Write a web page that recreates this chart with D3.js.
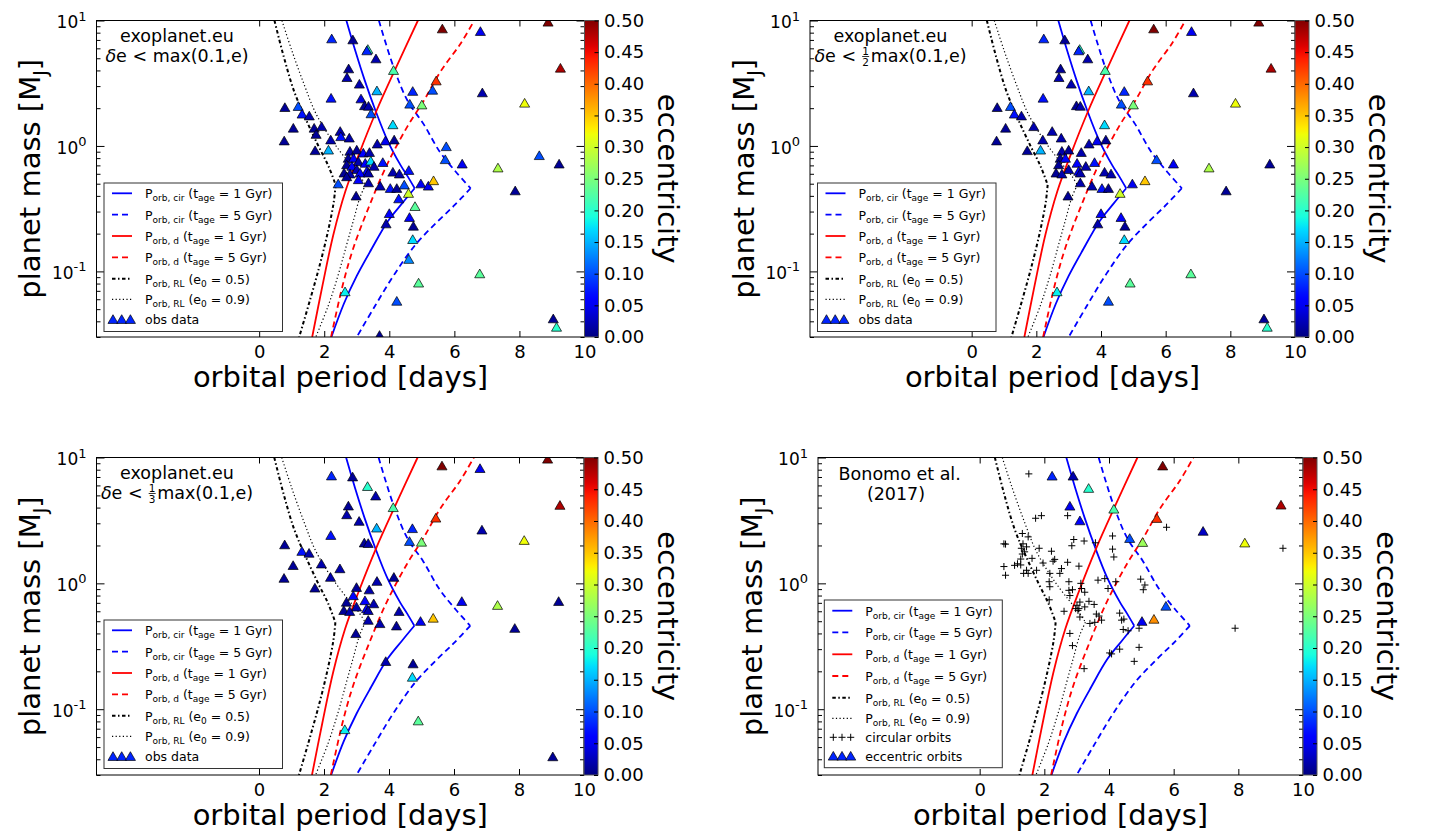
<!DOCTYPE html>
<html>
<head>
<meta charset="utf-8">
<script src="https://cdn.jsdelivr.net/npm/d3@7"></script>
<style>
  body { margin: 0; background: #fff; }
  svg { display: block; font-family: "DejaVu Sans", sans-serif; }
  text { white-space: pre; }
</style>
</head>
<body>
<svg id="fig" width="1429" height="833"></svg>
<script>
// ---- exoplanet.eu sample (orbital period [d], mass [MJ], eccentricity, precision level) ----
// level 1: only with de < max(0.1,e); 2: also de < 1/2 max; 3: also de < 1/3 max
const exoPeriod = [
  2.23, 2.88, 3.34, 3.31, 3.59, 2.75, 2.70, 4.13, 3.08, 3.62,
  2.21, 3.13, 3.24, 3.36, 3.44, 4.72, 4.63, 5.00, 0.79, 1.20,
  1.32, 1.54, 1.05, 1.69, 1.92, 1.75, 0.77, 2.20, 2.49, 2.51,
  2.77, 4.11, 3.63, 3.88, 4.15, 1.72, 2.13,
  2.79, 3.00, 3.20, 3.39, 2.74, 2.90, 3.05, 3.26, 3.43, 3.53, 2.69, 2.85, 3.00, 3.31, 2.61, 2.79, 3.10, 3.36, 2.69, 3.05, 3.36,
  3.80, 4.11, 4.31, 4.60, 2.43, 2.98, 3.72, 4.03, 4.23, 4.46, 4.59, 4.29, 4.97, 4.79, 4.00, 3.90, 4.62, 4.74, 4.72, 4.60, 4.90, 2.64, 4.23, 3.70,
  5.63, 6.80, 8.88, 9.26, 5.44, 5.33, 6.86, 8.16, 5.75, 5.72, 6.24, 7.34, 8.61, 9.22, 5.20, 5.36, 7.87, 6.78, 9.04, 9.14
];
const exoMass = [
  7.16, 7.03, 5.90, 5.75, 4.96, 4.13, 3.52, 4.01, 3.12, 2.76,
  2.41, 2.38, 2.10, 2.08, 1.81, 2.73, 2.16, 2.13, 2.03, 2.07,
  1.80, 1.74, 1.39, 1.39, 1.43, 1.24, 1.10, 1.12, 1.31, 1.19,
  1.16, 1.48, 1.04, 1.10, 1.12, 0.92, 0.93,
  0.91, 0.93, 0.88, 0.89, 0.80, 0.80, 0.75, 0.73, 0.76, 0.69, 0.71, 0.69, 0.65, 0.63, 0.61, 0.60, 0.61, 0.61, 0.57, 0.54, 0.51,
  0.74, 0.62, 0.60, 0.64, 0.50, 0.40, 0.48, 0.46, 0.46, 0.49, 0.42, 0.38, 0.50, 0.33, 0.29, 0.24, 0.27, 0.23, 0.18, 0.125, 0.081, 0.069, 0.058, 0.031,
  8.60, 8.20, 9.73, 4.18, 3.31, 2.79, 2.66, 2.20, 0.99, 0.78, 0.72, 0.67, 0.84, 0.72, 0.48, 0.53, 0.44, 0.096, 0.042, 0.036
];
const exoEcc = [
  0.08, 0.01, 0.20, 0.08, 0.02, 0.01, 0.02, 0.22, 0.02, 0.15,
  0.07, 0.04, 0.01, 0.02, 0.10, 0.08, 0.10, 0.25, 0.01, 0.10,
  0.07, 0.02, 0.01, 0.01, 0.02, 0.01, 0.01, 0.02, 0.02, 0.07,
  0.02, 0.17, 0.02, 0.05, 0.01, 0.01, 0.15,
  0.02, 0.01, 0.06, 0.02, 0.01, 0.06, 0.02, 0.06, 0.17, 0.02, 0.01, 0.06, 0.02, 0.06, 0.01, 0.02, 0.06, 0.02, 0.01, 0.06, 0.02,
  0.07, 0.02, 0.02, 0.07, 0.10, 0.01, 0.02, 0.07, 0.01, 0.10, 0.30, 0.07, 0.05, 0.23, 0.06, 0.02, 0.06, 0.01, 0.17, 0.13, 0.23, 0.18, 0.10, 0.01,
  0.50, 0.05, 0.50, 0.48, 0.43, 0.10, 0.02, 0.32, 0.10, 0.10, 0.05, 0.28, 0.10, 0.01, 0.05, 0.35, 0.01, 0.23, 0.01, 0.20
];
const exoLevel = [
  3, 3, 3, 2, 3, 3, 3, 3, 3, 3,
  3, 1, 3, 3, 1, 3, 3, 3, 3, 2,
  3, 3, 3, 1, 3, 1, 3, 3, 3, 1,
  2, 2, 3, 2, 3, 3, 2,
  2, 3, 1, 3, 2, 3, 1, 3, 1, 3, 3, 1, 3, 3, 3, 3, 1, 3, 1, 1, 3,
  2, 2, 3, 1, 1, 3, 3, 2, 3, 1, 2, 1, 3, 1, 2, 3, 2, 3, 3, 1, 3, 3, 2, 1,
  3, 3, 3, 3, 3, 1, 3, 3, 1, 2, 3, 3, 1, 3, 1, 3, 3, 2, 3, 2
];

// ---- Bonomo et al. (2017) sample ----
const bonCircPeriod = [
  1.52, 1.73, 1.91, 2.72, 5.78, 1.32, 1.50, 0.80, 2.91, 2.85, 3.23, 3.58, 4.11, 4.11, 4.15,
  1.29, 1.39, 1.32, 1.45, 1.84, 2.22, 1.62, 1.96, 2.27, 2.32, 1.08, 0.80, 1.36, 1.45, 1.50,
  1.76, 2.17, 2.53, 2.48, 2.72, 3.07, 2.15, 2.17, 2.76, 3.13, 3.15, 3.66, 3.87, 4.21, 2.15,
  2.76, 2.87, 3.25, 3.97, 4.98, 5.11, 5.06, 2.79, 3.10, 3.01, 3.07, 2.97, 3.25, 3.38, 3.54,
  2.61, 3.61, 3.69, 3.77, 3.56, 3.41, 3.10, 3.04, 4.33, 4.46, 4.39, 4.44, 4.59, 4.93, 2.79,
  2.87, 4.93, 4.02, 4.08, 4.33, 4.78, 3.23, 7.90, 9.38, 1.34, 0.75, 1.27, 1.17, 1.27, 0.75
];
const bonCircMass = [
  7.41, 3.29, 3.45, 3.45, 2.79, 2.49, 2.34, 2.05, 2.23, 1.99, 2.17, 2.10, 2.38, 1.87, 1.62,
  1.90, 1.78, 1.71, 1.95, 1.90, 1.80, 1.58, 1.45, 1.50, 1.55, 1.39, 1.16, 1.20, 1.27, 1.20,
  1.27, 1.20, 1.31, 1.20, 1.47, 1.37, 1.03, 0.94, 1.03, 1.00, 0.91, 1.06, 1.09, 1.03, 0.74,
  0.88, 0.89, 0.85, 0.91, 1.08, 0.97, 0.89, 0.80, 0.71, 0.67, 0.63, 0.63, 0.65, 0.72, 0.68,
  0.60, 0.57, 0.55, 0.51, 0.49, 0.48, 0.54, 0.61, 0.58, 0.52, 0.51, 0.43, 0.42, 0.44, 0.40,
  0.32, 0.31, 0.28, 0.275, 0.30, 0.24, 0.21, 0.44, 1.90, 2.06, 2.06, 1.56, 1.43, 1.40, 1.36
];
const bonEccPeriod = [2.24, 2.89, 3.37, 2.79, 3.10, 4.15, 5.66, 5.48, 6.91, 4.64, 5.04, 8.20, 5.76, 5.02, 5.39, 9.32];
const bonEccMass   = [7.14, 7.14, 5.70, 4.12, 3.15, 3.90, 8.59, 3.29, 2.60, 2.28, 2.12, 2.10, 0.66, 0.50, 0.52, 4.20];
const bonEccValue  = [0.08, 0.02, 0.20, 0.05, 0.06, 0.22, 0.50, 0.43, 0.03, 0.10, 0.27, 0.32, 0.10, 0.05, 0.38, 0.48];

// ---- theoretical limits, [period, mass] ----
const cirP1Upper = [[2.68, 10], [2.96, 5.68], [3.25, 3.3], [3.58, 1.9], [3.95, 1.1], [4.35, 0.7], [4.55, 0.58], [4.78, 0.46]];
const cirP1Lower = [[4.78, 0.46], [4.40, 0.35], [3.95, 0.25], [3.45, 0.15], [3.00, 0.092], [2.60, 0.055], [2.22, 0.030]];
const cirP5Upper = [[3.68, 10], [4.14, 4.18], [4.57, 2.27], [5.05, 1.5], [5.55, 0.9], [6.05, 0.62], [6.50, 0.46]];
const cirP5Lower = [[6.50, 0.46], [6.02, 0.34], [5.45, 0.245], [4.82, 0.165], [4.17, 0.096], [3.56, 0.053], [3.00, 0.030]];
const decP1 = [[1.63, 0.030], [1.95, 0.078], [2.28, 0.196], [2.65, 0.435], [3.06, 0.85], [3.60, 1.89], [4.20, 4.18], [4.88, 10]];
const decP5 = [[2.21, 0.030], [2.57, 0.078], [2.90, 0.155], [3.40, 0.34], [3.93, 0.71], [4.55, 1.42], [5.05, 2.27], [5.58, 3.94], [6.20, 6.6], [6.61, 10]];
const rl05Upper = [[0.47, 10], [0.76, 5.1], [1.08, 2.7], [1.45, 1.6], [1.82, 1.0], [2.13, 0.69], [2.35, 0.49]];
const rl05Lower = [[2.35, 0.49], [2.29, 0.354], [2.13, 0.217], [1.88, 0.117], [1.57, 0.060], [1.23, 0.030]];
const rl09Upper = [[0.70, 10], [1.00, 5.8], [1.38, 3.1], [1.75, 1.8], [2.25, 1.1], [2.75, 0.74], [3.05, 0.6], [3.27, 0.49]];
const rl09Lower = [[3.27, 0.49], [3.10, 0.39], [2.90, 0.256], [2.68, 0.16], [2.42, 0.092], [2.12, 0.053], [1.74, 0.030]];

// ---- ticks ----
const xTicks = [0, 2, 4, 6, 8, 10];
const yMajor = [0.1, 1, 10];
const yMajorExp = ["-1", "0", "1"];
const yMinor = [0.03, 0.04, 0.05, 0.06, 0.07, 0.08, 0.09, 0.2, 0.3, 0.4, 0.5, 0.6, 0.7, 0.8, 0.9, 2, 3, 4, 5, 6, 7, 8, 9];
const eccTicks = [0, 0.05, 0.1, 0.15, 0.2, 0.25, 0.3, 0.35, 0.4, 0.45, 0.5];

// ---- layout ----
const panels = [
  { left: 96.5, top: 20.5, width: 488, height: 316.5, kind: "exo", level: 1, note: "max" },
  { left: 810, top: 20.5, width: 485, height: 316.5, kind: "exo", level: 2, note: "half" },
  { left: 96.5, top: 457.5, width: 487.5, height: 317.5, kind: "exo", level: 3, note: "third" },
  { left: 818, top: 457.5, width: 485, height: 317.5, kind: "bonomo" }
];

const dashDot = "3.5,2.5,1.5,2.5";
const curves = [
  { parts: [cirP1Upper, cirP1Lower], color: "#0000ff", dash: null, w: 1.8 },
  { parts: [cirP5Upper, cirP5Lower], color: "#0000ff", dash: "6,4", w: 1.8 },
  { parts: [decP1], color: "#ff0000", dash: null, w: 1.8 },
  { parts: [decP5], color: "#ff0000", dash: "6,4", w: 1.8 },
  { parts: [rl05Upper, rl05Lower], color: "#000", dash: dashDot, w: 2 },
  { parts: [rl09Upper, rl09Lower], color: "#000", dash: "1.2,2.4", w: 1.2 }
];

// jet colormap
const jetR = d3.scaleLinear().domain([0, 0.35, 0.66, 0.89, 1]).range([0, 0, 1, 1, 0.5]).clamp(true);
const jetG = d3.scaleLinear().domain([0, 0.125, 0.375, 0.64, 0.91, 1]).range([0, 0, 1, 1, 0, 0]).clamp(true);
const jetB = d3.scaleLinear().domain([0, 0.11, 0.34, 0.65, 1]).range([0.5, 1, 1, 0, 0]).clamp(true);
const jet = t => d3.rgb(255 * jetR(t), 255 * jetG(t), 255 * jetB(t)).toString();
const eccColor = e => jet(Math.max(0, Math.min(1, e / 0.5)));

const triUp = {
  draw(ctx, size) {
    const s = Math.sqrt(size);
    ctx.moveTo(0, -0.5 * s);
    ctx.lineTo(0.55 * s, 0.45 * s);
    ctx.lineTo(-0.55 * s, 0.45 * s);
    ctx.closePath();
  }
};
const plus = {
  draw(ctx, size) {
    const r = Math.sqrt(size) / 2;
    ctx.moveTo(-r, 0); ctx.lineTo(r, 0);
    ctx.moveTo(0, -r); ctx.lineTo(0, r);
  }
};
const triPath = d3.symbol().type(triUp).size(84)();
const plusPath = d3.symbol().type(plus).size(50)();

const svg = d3.select("#fig");
svg.append("rect").attr("width", 1429).attr("height", 833).attr("fill", "#fff");
const defs = svg.append("defs");

const grad = defs.append("linearGradient").attr("id", "jetGrad")
  .attr("x1", 0).attr("y1", 1).attr("x2", 0).attr("y2", 0);
d3.range(0, 1.0001, 0.02).forEach(t => {
  grad.append("stop").attr("offset", t).attr("stop-color", jet(t));
});

// text with sub/superscripts: parts = [[string, kind]]
function richText(g, x, y, parts, size, smallSize, anchor) {
  const t = g.append("text").attr("x", x).attr("y", y)
    .attr("font-size", size).attr("text-anchor", anchor || "start");
  let shift = 0;
  parts.forEach(([s, kind]) => {
    const target = kind === "sub" ? size * 0.25 : kind === "sup" ? -size * 0.45 : 0;
    const ts = t.append("tspan").attr("dy", target - shift).text(s);
    ts.attr("font-size", kind === "sub" || kind === "sup" ? smallSize : size);
    if (kind === "it") ts.attr("font-style", "italic");
    shift = target;
  });
  return t;
}

const legendExo = [
  { type: "line", color: "#0000ff", dash: null, w: 1.8, label: [["P", ""], ["orb, cir", "sub"], [" (t", ""], ["age", "sub"], [" = 1 Gyr)", ""]] },
  { type: "line", color: "#0000ff", dash: "6,4", w: 1.8, label: [["P", ""], ["orb, cir", "sub"], [" (t", ""], ["age", "sub"], [" = 5 Gyr)", ""]] },
  { type: "line", color: "#ff0000", dash: null, w: 1.8, label: [["P", ""], ["orb, d", "sub"], [" (t", ""], ["age", "sub"], [" = 1 Gyr)", ""]] },
  { type: "line", color: "#ff0000", dash: "6,4", w: 1.8, label: [["P", ""], ["orb, d", "sub"], [" (t", ""], ["age", "sub"], [" = 5 Gyr)", ""]] },
  { type: "line", color: "#000", dash: dashDot, w: 2, label: [["P", ""], ["orb, RL", "sub"], [" (e", ""], ["0", "sub"], [" = 0.5)", ""]] },
  { type: "line", color: "#000", dash: "1.2,2.4", w: 1.2, label: [["P", ""], ["orb, RL", "sub"], [" (e", ""], ["0", "sub"], [" = 0.9)", ""]] }
];
const legendA = { dx: 7.5, dy: 162.5, w: 178.5, h: 148.5, rows: [10.3, 31.7, 53, 74.3, 95.7, 116.3, 136.3],
  entries: legendExo.concat([{ type: "tri", label: [["obs data", ""]] }]) };
const legendB = { dx: 6.3, dy: 142.5, w: 178, h: 167.7, rows: [10.7, 32.3, 54.3, 76, 97.7, 118.3, 137.3, 156],
  entries: legendExo.concat([{ type: "plus", label: [["circular orbits", ""]] }, { type: "tri", label: [["eccentric orbits", ""]] }]) };

function drawPanel(p, i) {
  const x = d3.scaleLinear().domain([-5, 10]).range([p.left, p.left + p.width]);
  const y = d3.scaleLog().domain([0.03, 10]).range([p.top + p.height, p.top]);
  const g = svg.append("g");

  defs.append("clipPath").attr("id", "clip" + i).append("rect")
    .attr("x", p.left).attr("y", p.top).attr("width", p.width).attr("height", p.height);
  const plot = g.append("g").attr("clip-path", `url(#clip${i})`);

  const line = d3.line().x(d => x(d[0])).y(d => y(d[1])).curve(d3.curveCatmullRom.alpha(0.5));
  curves.forEach(c => c.parts.forEach(pts => {
    plot.append("path").attr("d", line(pts)).attr("fill", "none")
      .attr("stroke", c.color).attr("stroke-width", c.w).attr("stroke-dasharray", c.dash);
  }));

  if (p.kind === "exo") {
    const idx = d3.range(exoPeriod.length).filter(k => exoLevel[k] >= p.level);
    plot.selectAll("path.obs").data(idx).join("path").attr("class", "obs")
      .attr("transform", k => `translate(${x(exoPeriod[k])},${y(exoMass[k])})`)
      .attr("d", triPath).attr("fill", k => eccColor(exoEcc[k]))
      .attr("stroke", "#000").attr("stroke-width", 0.7);
  } else {
    plot.selectAll("path.circ").data(bonCircPeriod).join("path").attr("class", "circ")
      .attr("transform", (d, k) => `translate(${x(d)},${y(bonCircMass[k])})`)
      .attr("d", plusPath).attr("fill", "none").attr("stroke", "#000").attr("stroke-width", 1);
    plot.selectAll("path.ecc").data(bonEccPeriod).join("path").attr("class", "ecc")
      .attr("transform", (d, k) => `translate(${x(d)},${y(bonEccMass[k])})`)
      .attr("d", triPath).attr("fill", (d, k) => eccColor(bonEccValue[k]))
      .attr("stroke", "#000").attr("stroke-width", 0.7);
  }

  // frame
  g.append("rect").attr("x", p.left).attr("y", p.top).attr("width", p.width).attr("height", p.height)
    .attr("fill", "none").attr("stroke", "#000").attr("stroke-width", 1);

  // axes (ticks point inward on all four sides)
  const bottom = g.append("g").attr("transform", `translate(0,${p.top + p.height})`)
    .call(d3.axisBottom(x).tickValues(xTicks).tickSizeInner(-6).tickSizeOuter(0).tickPadding(8));
  bottom.selectAll("text").attr("font-size", 18).attr("font-family", "DejaVu Sans").attr("fill", "#000");
  g.append("g").attr("transform", `translate(0,${p.top})`)
    .call(d3.axisTop(x).tickValues(xTicks).tickSizeInner(-6).tickSizeOuter(0).tickFormat(""));
  [["left", d3.axisLeft, p.left], ["right", d3.axisRight, p.left + p.width]].forEach(([side, ax, px]) => {
    g.append("g").attr("transform", `translate(${px},0)`)
      .call(ax(y).tickValues(yMajor).tickSizeInner(-8).tickSizeOuter(0).tickFormat(""));
    g.append("g").attr("transform", `translate(${px},0)`)
      .call(ax(y).tickValues(yMinor).tickSizeInner(-4).tickSizeOuter(0).tickFormat(""));
  });
  g.selectAll(".domain").remove();
  g.selectAll(".tick line").attr("stroke", "#000").attr("stroke-width", 1);

  yMajor.forEach((v, k) => {
    richText(g, p.left - 10, y(v) + 7.7, [["10", ""], [yMajorExp[k], "sup"]], 17, 13, "end");
  });

  // axis labels
  g.append("text").attr("x", p.left + p.width / 2).attr("y", p.top + p.height + 49.5)
    .attr("text-anchor", "middle").attr("font-size", 29).text("orbital period [days]");
  const yl = g.append("g").attr("transform", `translate(${p.left - 56.5},${p.top + p.height / 2}) rotate(-90)`);
  richText(yl, 0, 0, [["planet mass [M", ""], ["J", "sub"], ["]", ""]], 29, 19, "middle");

  // colorbar
  const cbX = p.left + p.width, cbW = 14;
  const cb = d3.scaleLinear().domain([0, 0.5]).range([p.top + p.height, p.top]);
  g.append("rect").attr("x", cbX).attr("y", p.top).attr("width", cbW).attr("height", p.height)
    .attr("fill", "url(#jetGrad)").attr("stroke", "#555").attr("stroke-width", 1);
  const cbAxis = g.append("g").attr("transform", `translate(${cbX + cbW},0)`)
    .call(d3.axisRight(cb).tickValues(eccTicks).tickSizeInner(-4).tickSizeOuter(0).tickPadding(5.5).tickFormat(d3.format(".2f")));
  cbAxis.select(".domain").remove();
  cbAxis.selectAll(".tick line").attr("stroke", "#000");
  cbAxis.selectAll("text").attr("font-size", 18).attr("font-family", "DejaVu Sans").attr("fill", "#000");
  g.append("text").attr("transform", `translate(${cbX + cbW + 59.5},${p.top + p.height / 2}) rotate(90)`)
    .attr("text-anchor", "middle").attr("font-size", 29).text("eccentricity");

  // annotation
  const cx = p.left + 80.5;
  if (p.kind === "exo") {
    g.append("text").attr("x", cx).attr("y", p.top + 21.5).attr("text-anchor", "middle")
      .attr("font-size", 17.5).text("exoplanet.eu");
    const ln = g.append("g");
    const a = ln.append("text").attr("x", 0).attr("y", 0).attr("font-size", 17.5);
    a.append("tspan").attr("font-style", "italic").text("δ");
    a.append("tspan").text(p.note === "max" ? "e < max(0.1,e)" : "e < ");
    let w = a.node().getComputedTextLength();
    if (p.note !== "max") {
      const fw = 8;
      ln.append("text").attr("x", w + fw / 2).attr("y", -7.8).attr("text-anchor", "middle").attr("font-size", 10.5).text("1");
      ln.append("line").attr("x1", w + 0.5).attr("x2", w + fw - 0.5).attr("y1", -5.8).attr("y2", -5.8)
        .attr("stroke", "#000").attr("stroke-width", 0.8);
      ln.append("text").attr("x", w + fw / 2).attr("y", 3.8).attr("text-anchor", "middle").attr("font-size", 10.5)
        .text(p.note === "half" ? "2" : "3");
      const b = ln.append("text").attr("x", w + fw + 1).attr("y", 0).attr("font-size", 17.5).text("max(0.1,e)");
      w = w + fw + 1 + b.node().getComputedTextLength();
    }
    ln.attr("transform", `translate(${cx - w / 2},${p.top + 41.8})`);
  } else {
    g.append("text").attr("x", p.left + 81.7).attr("y", p.top + 22.5).attr("text-anchor", "middle")
      .attr("font-size", 17.5).text("Bonomo et al.");
    g.append("text").attr("x", p.left + 78).attr("y", p.top + 42.5).attr("text-anchor", "middle")
      .attr("font-size", 17.5).text("(2017)");
  }

  // legend
  const L = p.kind === "exo" ? legendA : legendB;
  const lx = p.left + L.dx, ly = p.top + L.dy;
  const lg = g.append("g");
  lg.append("rect").attr("x", lx).attr("y", ly).attr("width", L.w).attr("height", L.h)
    .attr("fill", "#fff").attr("stroke", "#333").attr("stroke-width", 1);
  L.entries.forEach((e, k) => {
    const ry = ly + L.rows[k];
    if (e.type === "line") {
      lg.append("line").attr("x1", lx + 8).attr("x2", lx + 28).attr("y1", ry).attr("y2", ry)
        .attr("stroke", e.color).attr("stroke-width", e.w).attr("stroke-dasharray", e.dash);
    } else {
      [9, 17.7, 26.4].forEach(dx => {
        lg.append("path").attr("transform", `translate(${lx + dx},${ry})`)
          .attr("d", e.type === "tri" ? triPath : plusPath)
          .attr("fill", e.type === "tri" ? eccColor(0.08) : "none")
          .attr("stroke", "#000").attr("stroke-width", e.type === "tri" ? 0.7 : 1);
      });
    }
    richText(lg, lx + 41, ry + 4.8, e.label, 12.5, 9, "start");
  });
}

panels.forEach((p, i) => drawPanel(p, i));
</script>
</body>
</html>
